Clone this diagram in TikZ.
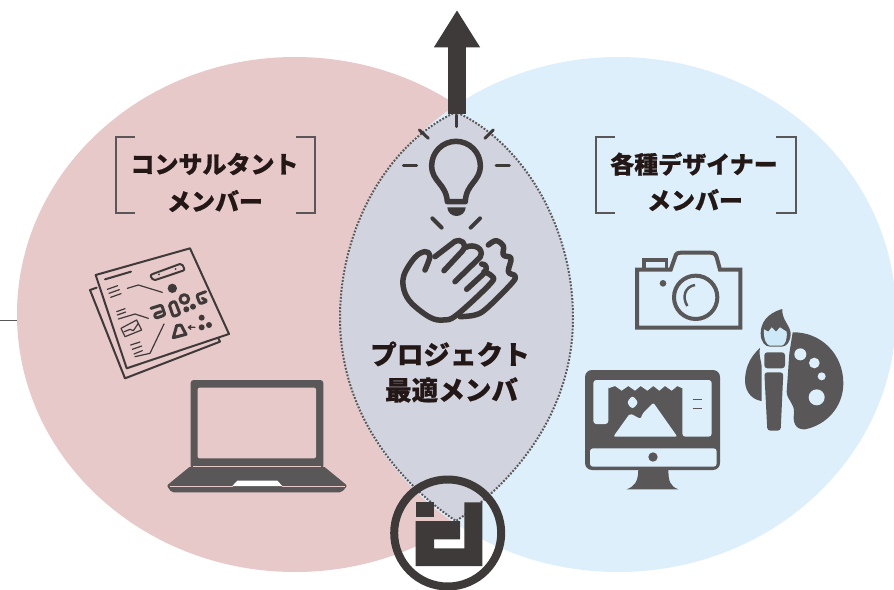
\documentclass[tikz,border=0pt]{standalone}
\usepackage{fontspec}
\newfontfamily\cjkfont[BoldFeatures={FakeBold=0.6}]{Noto Sans CJK JP}
\usetikzlibrary{positioning, arrows.meta}
\definecolor{pinkarea}{HTML}{E8C9CA}
\definecolor{bluearea}{HTML}{DDEFFA}
\definecolor{lensarea}{HTML}{D1D4DE}
\definecolor{darkink}{HTML}{3E3A39}
\definecolor{iconink}{HTML}{595757}
\definecolor{textink}{HTML}{231815}
\definecolor{brushblue}{HTML}{CDE8F7}
\tikzset{
    title/.style={font=\cjkfont\bfseries\fontsize{24}{24}\selectfont, text=textink, inner sep=0pt},
    bigtitle/.style={font=\cjkfont\bfseries\fontsize{26.6}{26.6}\selectfont, text=textink, inner sep=0pt},
    bracket/.style={draw=iconink, line width=2.3pt},
    zoomed/.style={shift={#1}, scale=1/3},
    ray/.style={draw=darkink, line width=3pt, line cap=round},
    stroke/.style={draw=darkink, line width=5.5pt, line cap=round, line join=round},
    thin ink/.style={draw=darkink, line width=1.2pt, line cap=round, line join=round},
    sheet ink/.style={draw=darkink, line width=2pt, line cap=round, line join=round},
    glyph ink/.style={draw=darkink, line width=3pt, line cap=round, line join=round},
}
\begin{document}
\begin{tikzpicture}[x=1pt, y=-1pt]
    \useasboundingbox (0, 0) rectangle (894, 589);
    \draw [iconink, line width=1pt] (0, 320) --++ (17, 0);
    \fill [pinkarea] (295, 314.5) ellipse [x radius=278pt, y radius=257.5pt];
    \fill [bluearea] (618, 314.5) ellipse [x radius=278pt, y radius=257.5pt];

    % lens
    \draw [fill=lensarea, draw=iconink, line width=2pt, dash pattern=on 1.8pt off 1.6pt]
        (456, 112) .. controls (390, 142) and (340, 225) .. (340, 318)
        .. controls (340, 410) and (395, 480) .. (456, 521)
        .. controls (517, 480) and (573, 410) .. (573, 318)
        .. controls (573, 225) and (522, 142) .. (456, 112) -- cycle
    ;

    % arrow
    \coordinate (arrowbase) at (457, 114);
    \coordinate (arrowtip) at (457, 10);
    \draw [darkink, line width=17.4pt, -{Triangle[width=43.4pt, length=37.3pt]}] (arrowbase) -- (arrowtip);

    % brackets and titles
    \draw [bracket] (135, 137.3) -- (115.7, 137.3) -- (115.7, 212.7) -- (135, 212.7);
    \draw [bracket] (296, 137.3) -- (315.3, 137.3) -- (315.3, 212.7) -- (296, 212.7);
    \draw [bracket] (615, 137.3) -- (596, 137.3) -- (596, 212.7) -- (615, 212.7);
    \draw [bracket] (776, 137.3) -- (795.7, 137.3) -- (795.7, 212.7) -- (776, 212.7);
    \node [title] (consultant) at (214.5, 164) {コンサルタント};
    \node [title] (consultantmember) at (215, 201) {メンバー};
    \node [title] (designer) at (694, 164) {各種デザイナー};
    \node [title] (designermember) at (695, 200) {メンバー};
    \node [bigtitle] (project) at (450, 354) {プロジェクト};
    \node [bigtitle] (bestmember) at (451.5, 390) {最適メンバ};

    % bulb
    \begin{scope}[zoomed={(340, 0)}]
        \draw [stroke] (322, 605) .. controls (318, 550) and (275, 545) .. (275, 497)
            arc [start angle=180, end angle=360, radius=73] 
            .. controls (421, 545) and (378, 550) .. (376, 605) -- cycle;
        \fill [darkink] (322, 622) -- (377, 622) arc [start angle=0, end angle=180, x radius=27.5, y radius=26] -- cycle;
        \draw [ray] (348, 345) -- (348, 380);
        \draw [ray] (238, 390) -- (265, 415);
        \draw [ray] (460, 390) -- (435, 415);
        \draw [ray] (190, 496) -- (230, 496);
        \draw [ray] (468, 496) -- (508, 496);
        \draw [ray, line width=4pt] (277, 655) -- (305, 683);
        \draw [ray, line width=4pt] (420, 655) -- (392, 683);
        % hands
        \draw [stroke] plot [smooth, tension=0.6] coordinates {(255, 810) (270, 768) (255, 755) (225, 772) (192, 825) (192, 870) (215, 910) (270, 952) (310, 960) (350, 945) (452, 850) (455, 828) (432, 815)};
        \draw [stroke] (285, 770) -- (345, 724) .. controls (360, 715) and (385, 730) .. (368, 752) -- (312, 812);
        \draw [stroke] (378, 742) .. controls (400, 730) and (435, 745) .. (420, 772) -- (345, 845);
        \draw [stroke] (425, 792) .. controls (440, 790) and (445, 810) .. (430, 822) -- (380, 868);
        \draw [stroke] plot [smooth, tension=0.6] coordinates {(445, 735) (468, 722) (490, 738) (490, 765) (513, 775) (505, 815) (525, 828) (515, 850) (440, 925) (405, 945) (360, 950)};
    \end{scope}

    % document
    \begin{scope}[zoomed={(85, 240)}]
        \draw [sheet ink] (32, 105) -- (315, 25) -- (432, 282) -- (125, 385) -- cycle;
        \draw [sheet ink] (35, 143) -- (15, 150) -- (120, 415) -- (405, 305) -- (400, 295);
        \draw [sheet ink] (60, 118) -- (138, 95);
        \draw [sheet ink, rounded corners=2pt] (195, 105) -- (290, 70) -- (300, 90) -- (205, 122) -- cycle;
        \fill [darkink] (222, 103) circle (3) (272, 87) circle (3);
        \fill [darkink] (262, 145) circle (14);
        \draw [thin ink] (67, 148) -- (98, 137) (72, 160) -- (103, 149) (77, 172) -- (108, 161);
        \draw [thin ink] (127, 145) -- (160, 135) -- (232, 157);
        \draw [thin ink] (95, 215) -- (120, 206) (97, 225) -- (122, 216) (100, 237) -- (150, 222) -- (190, 235);
        \draw [glyph ink, rounded corners=2pt] (198, 205) -- (230, 195) -- (240, 225) -- (212, 235) -- (208, 222) -- (228, 215);
        \draw [glyph ink, rounded corners=2pt] (252, 192) -- (270, 183) -- (285, 222) -- (265, 230) -- cycle;
        \draw [glyph ink] (298, 177) circle (13);
        \fill [darkink] (304, 208) circle (9) (324, 200) circle (9);
        \draw [glyph ink, rounded corners=2pt] (362, 155) -- (335, 165) -- (345, 192) -- (367, 183) -- (352, 175);
        \draw [thin ink] (108, 265) -- (155, 240) -- (170, 270) -- (120, 290) -- cycle (118, 275) -- (135, 268) -- (145, 272) -- (160, 250);
        \draw [thin ink] (237, 252) -- (195, 340) -- (150, 350);
        \draw [thin ink] (137, 315) -- (165, 306) (142, 328) -- (170, 318) (147, 342) -- (172, 332);
        \draw [glyph ink] (265, 293) -- (275, 257) -- (288, 255) -- (303, 283) -- cycle;
        \draw [thin ink] (330, 262) -- (310, 262) (318, 256) -- (310, 262) -- (318, 268);
        \fill [darkink] (350, 233) circle (9) (350, 262) circle (9) (372, 255) circle (9);
    \end{scope}

    % laptop
    \begin{scope}[zoomed={(80, 120)}]
        \fill [iconink, rounded corners=3pt] (332, 780) rectangle (730, 1045);
        \fill [pinkarea, rounded corners=2pt] (353, 803) rectangle (708, 1015);
        \fill [iconink, rounded corners=2pt] (332, 1038) -- (730, 1038) -- (802, 1097) -- (785, 1117) -- (275, 1117) -- (260, 1097) -- cycle;
        \draw [pinkarea, line width=1pt] (340, 1038) -- (722, 1038);
        \draw [pinkarea, line width=1pt] (270, 1098) -- (460, 1098) (605, 1098) -- (795, 1098);
        \fill [white] (457, 1098) -- (472, 1082) -- (592, 1082) -- (607, 1098) -- cycle;
    \end{scope}

    % camera, monitor, palette
    \begin{scope}[zoomed={(570, 120)}]
        \draw [iconink, line width=4pt, line join=miter] (201, 449) -- (302, 449) -- (315, 412) .. controls (318, 400) and (322, 398) .. (335, 398) -- (420, 398) .. controls (432, 398) and (436, 402) .. (440, 412) -- (450, 449) -- (511, 449) -- (511, 623) -- (201, 623) -- cycle;
        \draw [iconink, line width=3.5pt] (222, 445) -- (222, 420) -- (290, 420) -- (290, 445);
        \draw [iconink, line width=4pt] (377, 532) circle (65);
        \draw [iconink, line width=2.5pt] (375, 495) .. controls (345, 500) and (335, 530) .. (352, 558);
        \fill [iconink] (279, 490) circle (10);

        \fill [iconink, rounded corners=7pt] (45, 750) rectangle (450, 1050);
        \fill [iconink] (205, 1045) .. controls (205, 1085) and (195, 1098) .. (170, 1108) -- (325, 1108) .. controls (300, 1098) and (295, 1085) .. (295, 1045) -- cycle;
        \fill [bluearea, rounded corners=3pt] (70, 780) -- (425, 780) -- (425, 950) -- (337, 950) -- (337, 795) -- (115, 795) -- (115, 912) -- (70, 912) -- cycle;
        \fill [bluearea] (115, 785) -- (337, 785) -- (337, 805) -- (322, 798) -- (305, 812) -- (285, 798) -- (268, 812) -- (250, 798) -- (232, 812) -- (212, 798) -- (195, 812) -- (175, 798) -- (155, 812) -- (135, 798) -- (115, 805) -- cycle;
        \fill [bluearea, rounded corners=3pt] (60, 985) rectangle (440, 1040);
        \fill [iconink] (249, 1011) circle (14);
        \fill [bluearea, rounded corners=2pt] (130, 950) -- (180, 880) -- (212, 897) -- (218, 880) -- (250, 848) -- (322, 950) -- cycle;
        \fill [bluearea, rounded corners=3pt] (187, 826) -- (206, 848) -- (187, 868) -- (170, 848) -- cycle;
        \draw [iconink, line width=1.2pt] (368, 838) -- (395, 838) (368, 866) -- (395, 866);

        \fill [iconink] (668, 637) .. controls (750, 635) and (820, 700) .. (820, 790) .. controls (820, 860) and (770, 915) .. (705, 928) .. controls (675, 930) and (668, 905) .. (672, 880) .. controls (675, 850) and (650, 840) .. (650, 815) -- (658, 700) -- cycle;
        \fill [iconink] (570, 684) .. controls (535, 715) and (525, 750) .. (525, 785) .. controls (527, 820) and (550, 840) .. (575, 843) -- (575, 745) .. controls (575, 720) and (565, 710) .. (570, 684) -- cycle;
        \fill [bluearea] (691, 703) circle (18) (733, 729) circle (16) (755, 769) circle (12) (740, 832) circle (24);
        \fill [iconink] (637, 567) .. controls (590, 580) and (572, 610) .. (572, 640) .. controls (572, 665) and (585, 680) .. (600, 680) -- (635, 680) .. controls (650, 680) and (662, 665) .. (662, 640) .. controls (660, 615) and (635, 600) .. (637, 567) -- cycle;
        \fill [brushblue] (582, 628) -- (595, 635) -- (605, 622) -- (618, 635) -- (630, 622) -- (650, 635) .. controls (652, 660) and (645, 675) .. (635, 677) -- (600, 677) .. controls (590, 675) and (580, 660) .. (582, 628) -- cycle;
        \fill [iconink, rounded corners=3pt] (583, 697) rectangle (645, 745);
        \fill [iconink, rounded corners=3pt] (583, 757) -- (640, 757) -- (632, 932) -- (592, 932) -- cycle;
    \end{scope}

    % logo
    \draw [darkink, line width=8pt] (447.7, 533) circle (53.5pt);
    \begin{scope}[zoomed={(340, 330)}]
        \fill [darkink] (227, 517) rectangle (282, 560);
        \fill [darkink] (227, 573) -- (360, 573) -- (360, 628) -- (282, 628) -- (282, 655) -- (373, 655) -- (373, 517) -- (427, 517) -- (427, 708) -- (227, 708) -- cycle;
    \end{scope}
\end{tikzpicture}
\end{document}
